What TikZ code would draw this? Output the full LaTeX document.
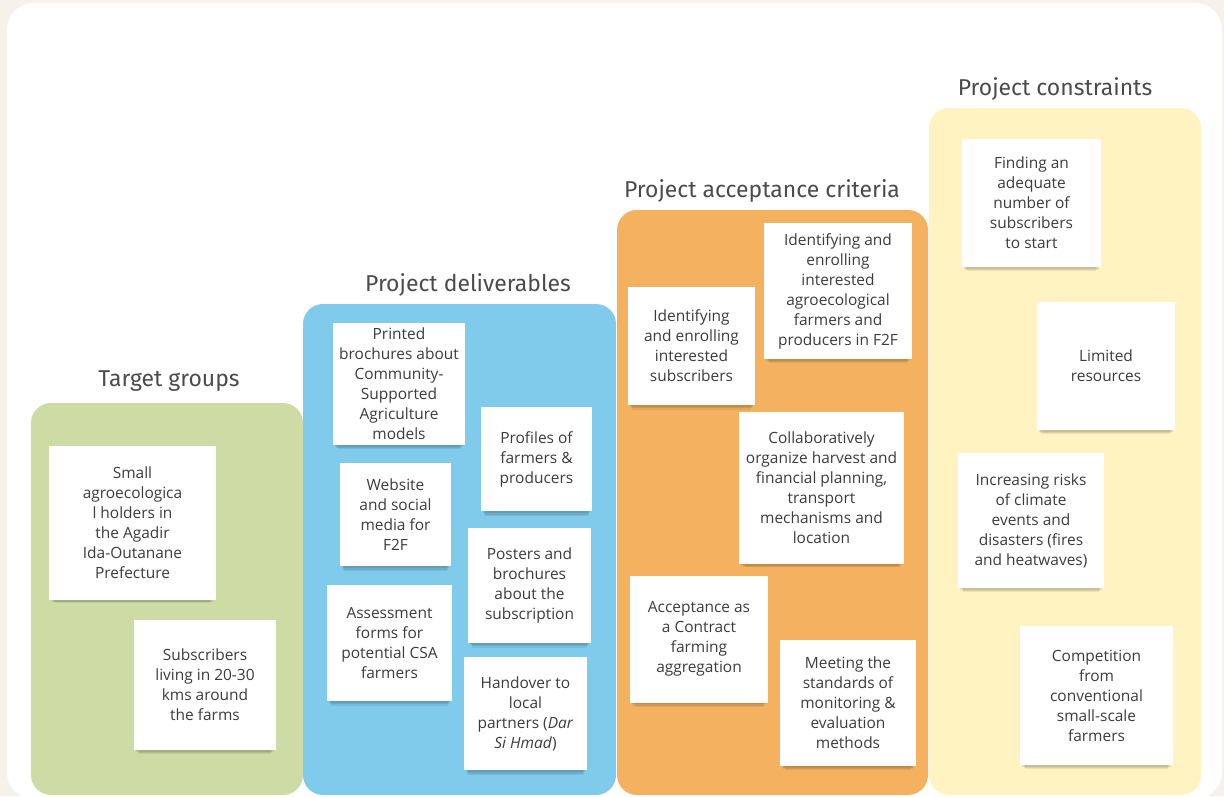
\documentclass[tikz,border=0pt]{standalone}
\usepackage{fontspec}
\setmainfont{Open Sans}
\newfontfamily\titlefont{Fira Sans}
\usetikzlibrary{shadows}
\definecolor{cream}{RGB}{245,242,235}
\definecolor{cgreen}{RGB}{207,219,165}
\definecolor{cblue}{RGB}{128,202,236}
\definecolor{corange}{RGB}{244,178,96}
\definecolor{cyellow}{RGB}{255,243,194}
\definecolor{ntext}{RGB}{60,60,60}
\definecolor{ttext}{RGB}{75,75,75}
\tikzset{
  column/.style={rounded corners=15pt},
  coltitle/.style={font=\titlefont\fontsize{17.2}{20}\selectfont, text=ttext, inner sep=0pt},
  note/.style={fill=white, inner sep=0pt, align=center, text=ntext,
    font=\fontsize{11.6}{15}\selectfont,
    general shadow={fill=black, opacity=0.08, shadow yshift=-3pt, shadow scale=0.97},
    general shadow={fill=black, opacity=0.08, shadow yshift=-5pt, shadow scale=0.95},
    general shadow={fill=black, opacity=0.07, shadow yshift=-7pt, shadow scale=0.93}}
}
\newcommand\nt[6]{\node[note, minimum width=#4*0.75pt, minimum height=#5*0.75pt] (#1) at (#2,#3) {#6};}
\begin{document}
\begin{tikzpicture}[x=0.75pt,y=-0.75pt]
\useasboundingbox (0,0) rectangle (1224,796);
\fill[cream] (0,0) rectangle (1224,796);
\fill[white, rounded corners=20pt] (7,3) rectangle (1222,799);
% columns
\fill[cgreen, column] (31,403) rectangle (303,795);
\fill[cblue, column] (303,304) rectangle (616,795);
\fill[corange, column] (617,210) rectangle (928,795);
\fill[cyellow, column] (929,108) rectangle (1201,795);
% titles
\node[coltitle] (t1) at (169,381) {Target groups};
\node[coltitle] (t2) at (468,285) {Project deliverables};
\node[coltitle] (t3) at (762,191) {Project acceptance criteria};
\node[coltitle] (t4) at (1055,89) {Project constraints};
% notes
\nt{n1}{132.5}{523}{167}{154}{Small\\agroecologica\\l holders in\\the Agadir\\Ida-Outanane\\Prefecture}
\nt{n2}{205}{685}{142}{130}{Subscribers\\living in 20-30\\kms around\\the farms}
\nt{n3}{399}{384}{132}{122}{Printed\\brochures about\\Community-\\Supported\\Agriculture\\models}
\nt{n4}{536.5}{459}{111}{104}{Profiles of\\farmers \&\\producers}
\nt{n5}{395.5}{514.5}{111}{103}{Website\\and social\\media for\\F2F}
\nt{n6}{529.5}{585.5}{123}{115}{Posters and\\brochures\\about the\\subscription}
\nt{n7}{389.5}{643}{125}{116}{Assessment\\forms for\\potential CSA\\farmers}
\nt{n8}{525.5}{713.5}{123}{113}{Handover to\\local\\partners (\textit{Dar}\\\textit{Si Hmad})}
\nt{n9}{691.5}{346}{127}{118}{Identifying\\and enrolling\\interested\\subscribers}
\nt{n10}{838}{291}{148}{136}{Identifying and\\enrolling\\interested\\agroecological\\farmers and\\producers in F2F}
\nt{n11}{821.5}{488}{165}{152}{Collaboratively\\organize harvest and\\financial planning,\\transport\\mechanisms and\\location}
\nt{n12}{699}{639}{138}{127}{Acceptance as\\a Contract\\farming\\aggregation}
\nt{n13}{848}{703}{136}{126}{Meeting the\\standards of\\monitoring \&\\evaluation\\methods}
\nt{n14}{1031.5}{203}{139}{128}{Finding an\\adequate\\number of\\subscribers\\to start}
\nt{n15}{1106}{366}{138}{128}{Limited\\resources}
\nt{n16}{1031}{520.5}{146}{135}{Increasing risks\\of climate\\events and\\disasters (fires\\and heatwaves)}
\nt{n17}{1096.5}{695.5}{153}{139}{Competition\\from\\conventional\\small-scale\\farmers}
\end{tikzpicture}
\end{document}
